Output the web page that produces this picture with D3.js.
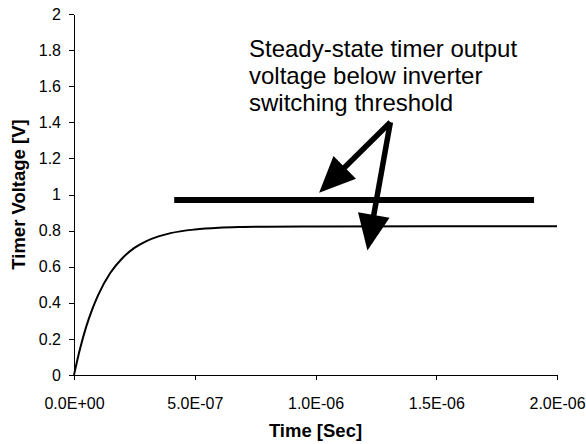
<!DOCTYPE html>
<html>
<head>
<meta charset="utf-8">
<script src="https://cdn.jsdelivr.net/npm/d3@7"></script>
<style>
  body { margin: 0; background: #fff; }
  text { font-family: "Liberation Sans", Arial, sans-serif; fill: #000; }
  .axis path, .axis line { stroke: #000; shape-rendering: crispEdges; }
  .axis text { font-size: 16px; }
  .axisTitle { font-size: 18.5px; font-weight: bold; }
  .note { font-size: 24px; }
</style>
</head>
<body>
<div id="chart"></div>
<script>
var svgWidth = 586;
var svgHeight = 444;

var margin = { top: 14, right: 29, bottom: 69, left: 74 };
var width = svgWidth - margin.left - margin.right;
var height = svgHeight - margin.top - margin.bottom;

// timer output
var timeValues = [0, 0.25e-7, 0.5e-7, 0.75e-7, 1e-7, 1.5e-7, 2e-7, 2.5e-7, 3e-7, 3.5e-7,
  4e-7, 5e-7, 6e-7, 7e-7, 8e-7, 1e-6, 1.5e-6, 2e-6];
var voltageValues = [0, 0.145, 0.265, 0.362, 0.443, 0.565, 0.647, 0.704, 0.742, 0.768,
  0.786, 0.806, 0.816, 0.82, 0.822, 0.823, 0.824, 0.824];

// inverter switching threshold marker
var thresholdValue = 0.97;
var thresholdStart = 4.15e-7;
var thresholdEnd = 1.905e-6;

// annotation
var noteLines = ["Steady-state timer output", "voltage below inverter", "switching threshold"];
var arrowFrom = [1.31e-6, 1.40];
var arrowTips = [[1.015e-6, 1.01], [1.215e-6, 0.69]];

var xTicks = [0, 5e-7, 1e-6, 1.5e-6, 2e-6];
var yTicks = [0, 0.2, 0.4, 0.6, 0.8, 1, 1.2, 1.4, 1.6, 1.8, 2];

var svg = d3.select("#chart")
  .append("svg")
  .attr("width", svgWidth)
  .attr("height", svgHeight);

var chartGroup = svg.append("g")
  .attr("transform", `translate(${margin.left}, ${margin.top})`);

var xScale = d3.scaleLinear().domain([0, 2e-6]).range([0, width]);
var yScale = d3.scaleLinear().domain([0, 2]).range([height, 0]);

var bottomAxis = d3.axisBottom(xScale)
  .tickValues(xTicks)
  .tickSize(5)
  .tickPadding(18)
  .tickFormat(d => d.toExponential(1).replace("e", "E").replace(/E([+-])(\d)$/, "E$10$2"));
var leftAxis = d3.axisLeft(yScale)
  .tickValues(yTicks)
  .tickSize(5)
  .tickPadding(8)
  .tickFormat(d => String(+d.toFixed(1)));

chartGroup.append("g")
  .attr("class", "axis")
  .attr("transform", `translate(0, ${height})`)
  .call(bottomAxis)
  .call(g => g.select(".domain").attr("d", `M0.5,0.5H${width + 0.5}`));

chartGroup.append("g")
  .attr("class", "axis")
  .call(leftAxis)
  .call(g => g.select(".domain").attr("d", `M0.5,0.5V${height + 0.5}`));

var line = d3.line()
  .x((d, i) => xScale(timeValues[i]))
  .y(d => yScale(d))
  .curve(d3.curveMonotoneX);

chartGroup.append("path")
  .datum(voltageValues)
  .attr("fill", "none")
  .attr("stroke", "#000")
  .attr("stroke-width", 2)
  .attr("d", line);

chartGroup.append("line")
  .attr("x1", xScale(thresholdStart))
  .attr("x2", xScale(thresholdEnd))
  .attr("y1", yScale(thresholdValue))
  .attr("y2", yScale(thresholdValue))
  .attr("stroke", "#000")
  .attr("stroke-width", 6);

// arrows
function drawArrow(from, to) {
  var x0 = xScale(from[0]), y0 = yScale(from[1]);
  var x1 = xScale(to[0]), y1 = yScale(to[1]);
  var dx = x1 - x0, dy = y1 - y0;
  var len = Math.sqrt(dx * dx + dy * dy);
  var ux = dx / len, uy = dy / len;
  var headLen = 36, headHalf = 16;
  var bx = x1 - ux * headLen, by = y1 - uy * headLen;
  chartGroup.append("line")
    .attr("x1", x0).attr("y1", y0)
    .attr("x2", bx + ux * 2).attr("y2", by + uy * 2)
    .attr("stroke", "#000")
    .attr("stroke-width", 5.5);
  chartGroup.append("path")
    .attr("d", `M${x1},${y1}L${bx - uy * headHalf},${by + ux * headHalf}L${bx + uy * headHalf},${by - ux * headHalf}Z`)
    .attr("fill", "#000");
}
arrowTips.forEach(t => drawArrow(arrowFrom, t));

svg.append("g")
  .selectAll("text")
  .data(noteLines)
  .enter()
  .append("text")
  .attr("class", "note")
  .attr("x", 249)
  .attr("y", (d, i) => 57 + i * 27)
  .text(d => d);

svg.append("text")
  .attr("class", "axisTitle")
  .attr("text-anchor", "middle")
  .attr("x", margin.left + width / 2)
  .attr("y", 437)
  .text("Time [Sec]");

svg.append("text")
  .attr("class", "axisTitle")
  .attr("text-anchor", "middle")
  .attr("transform", `translate(24.5, ${margin.top + height / 2}) rotate(-90)`)
  .text("Timer Voltage [V]");
</script>
</body>
</html>
